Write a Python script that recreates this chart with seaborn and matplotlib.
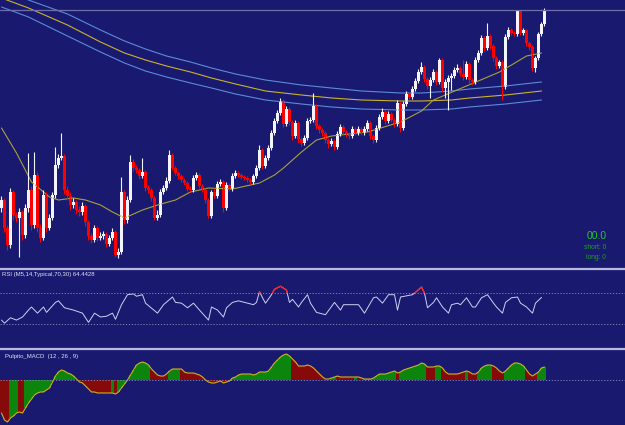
import numpy as np
import matplotlib.pyplot as plt
import seaborn as sns

# candle data (price units), open of each bar = previous close
first_open = 62
closes = [70, 42, 25, 78, 55, 52, 58, 35, 62, 80,
          45, 95, 42, 32, 75, 42, 52, 75, 105, 112,
          114, 80, 74, 65, 68, 60, 58, 64, 48, 34,
          30, 42, 32, 34, 36, 26, 32, 38, 15, 18,
          78, 50, 70, 108, 102, 100, 94, 98, 82, 80,
          72, 52, 55, 78, 82, 89, 115, 102, 97, 94,
          90, 87, 81, 80, 92, 95, 84, 80, 70, 54,
          78, 74, 86, 88, 62, 85, 81, 94, 97, 95,
          93, 92, 90, 88, 94, 102, 120, 104, 112, 122,
          137, 149, 157, 169, 146, 161, 148, 134, 147, 131,
          127, 132, 149, 150, 164, 144, 140, 137, 130, 126,
          129, 123, 136, 143, 138, 135, 134, 141, 137, 141,
          137, 141, 147, 134, 130, 142, 153, 158, 149, 156,
          150, 146, 167, 142, 166, 176, 173, 181, 189, 198,
          203, 191, 184, 190, 198, 188, 210, 182, 188, 192,
          194, 200, 202, 196, 193, 206, 190, 188, 210, 217,
          232, 222, 234, 224, 212, 204, 208, 183, 233, 240,
          237, 236, 259, 237, 240, 227, 223, 202, 212, 236,
          246, 260]
highs = [74, 72, 45, 82, 80, 58, 62, 60, 66, 117,
         84, 118, 98, 46, 80, 78, 56, 78, 123, 116,
         137, 116, 84, 78, 72, 70, 64, 68, 66, 50,
         37, 45, 44, 38, 39, 38, 35, 42, 40, 22,
         93, 80, 74, 115, 111, 105, 102, 112, 100, 85,
         82, 74, 60, 81, 85, 93, 120, 117, 104, 99,
         96, 92, 89, 84, 95, 98, 97, 86, 82, 72,
         80, 82, 89, 91, 90, 88, 87, 97, 100, 99,
         97, 95, 94, 92, 96, 105, 125, 122, 115, 125,
         140, 152, 160, 172, 171, 164, 163, 150, 150, 149,
         133, 135, 152, 153, 177, 166, 146, 142, 139, 132,
         132, 131, 139, 146, 145, 140, 137, 144, 143, 144,
         143, 144, 150, 149, 136, 145, 156, 162, 160, 159,
         158, 152, 170, 169, 169, 179, 178, 184, 192, 201,
         208, 205, 193, 193, 201, 200, 212, 212, 191, 195,
         197, 203, 206, 204, 210, 209, 208, 192, 213, 220,
         235, 234, 247, 236, 226, 214, 210, 210, 236, 243,
         242, 239, 260, 260, 242, 241, 229, 225, 214, 238,
         248, 262]
lows = [58, 38, 20, 22, 50, 48, 13, 30, 32, 58,
        40, 42, 38, 28, 30, 38, 40, 50, 72, 102,
        110, 76, 70, 60, 62, 56, 54, 55, 44, 30,
        27, 28, 29, 30, 31, 23, 24, 30, 13, 12,
        16, 46, 47, 68, 99, 97, 91, 92, 79, 77,
        69, 50, 50, 53, 76, 80, 87, 100, 95, 91,
        88, 85, 79, 78, 78, 90, 82, 78, 67, 52,
        52, 72, 72, 84, 58, 60, 79, 79, 92, 93,
        91, 90, 88, 86, 86, 92, 100, 101, 102, 110,
        120, 135, 147, 155, 143, 144, 145, 130, 132, 127,
        124, 125, 130, 147, 148, 141, 137, 134, 127, 122,
        124, 120, 121, 134, 136, 133, 131, 132, 135, 135,
        135, 135, 139, 131, 127, 128, 140, 151, 146, 147,
        148, 143, 144, 138, 140, 164, 171, 171, 179, 187,
        196, 188, 181, 172, 188, 185, 186, 178, 172, 160,
        180, 192, 198, 194, 190, 191, 186, 185, 186, 208,
        215, 219, 220, 221, 209, 201, 202, 170, 181, 231,
        235, 234, 234, 235, 235, 224, 220, 199, 198, 210,
        234, 244]

# moving average and envelope (bar index, price)
ma_idx = [0, 5, 10, 16, 19, 24, 28, 33, 37, 41, 47, 52, 58, 63, 69, 77,
          86, 91, 94, 100, 105, 110, 122, 133, 140, 144, 155, 166, 170, 175, 180]
ma_val = [142, 117, 88, 73, 70, 72, 70, 65, 58, 52, 60, 65, 70, 78, 82, 81,
          87, 95, 102, 118, 130, 134, 138, 148, 159, 170, 184, 198, 205, 214, 217]
env_idx = [0, 9, 22, 33, 41, 48, 55, 63, 70, 78, 88, 100, 110, 120, 133, 140, 150, 156, 168, 180]
env_up = [282, 270, 256, 240, 229, 221, 214, 208, 202, 196, 190, 185, 182, 179, 177, 177, 179, 181, 184, 188]
env_mid = [272, 262, 245, 228, 217, 210, 204, 198, 192, 186, 179, 175, 172, 170, 169, 169, 170, 172, 175, 179]
env_dn = [263, 253, 234, 218, 207, 199, 193, 187, 182, 176, 170, 166, 163, 161, 160, 160, 161, 163, 166, 170]

# RSI(14)
rsi_idx = [0, 1, 3, 5, 7, 9, 10, 12, 14, 15, 18, 19, 21, 24, 27, 29, 31, 33, 35, 37,
           38, 40, 42, 44, 45, 47, 48, 52, 54, 57, 58, 60, 62, 64, 66, 69, 70, 72, 74, 75,
           77, 79, 82, 84, 85, 86, 87, 88, 90, 91, 93, 95, 96, 97, 99, 100, 102, 103, 105, 108,
           111, 113, 114, 117, 119, 121, 124, 125, 127, 129, 131, 132, 133, 137, 138, 140, 141, 142, 144, 145,
           147, 149, 150, 152, 153, 155, 157, 158, 160, 162, 164, 165, 167, 168, 170, 172, 173, 175, 177, 178,
           180]
rsi_val = [35, 31, 38, 35, 39, 48, 52, 44, 52, 45, 58, 60, 51, 48, 44, 32, 44, 39, 40, 44,
           36, 55, 68, 69, 66, 68, 57, 44, 55, 65, 58, 57, 51, 57, 48, 35, 52, 48, 39, 51,
           58, 60, 57, 55, 58, 72, 64, 57, 68, 75, 79, 74, 58, 62, 52, 58, 68, 57, 45, 42,
           58, 48, 55, 55, 55, 44, 64, 65, 57, 68, 68, 48, 65, 68, 71, 78, 70, 51, 58, 64,
           52, 44, 55, 57, 55, 64, 52, 52, 64, 68, 57, 52, 44, 58, 64, 65, 57, 52, 44, 57,
           64.4428]

# MACD histogram, one value per bar
macd_val = [-33, -40, -42, -38, -36, -33, -32, -33, -28, -23,
            -19, -15, -13, -12, -12, -10, -8, -2, 4, 8,
            10, 9, 7, 6, 4, 1, -2, -3, -6, -9,
            -12, -12, -13, -13, -13, -13, -13, -13, -14, -12,
            -8, -4, 0, 5, 10, 15, 17, 18, 17, 15,
            11, 8, 5, 4, 4, 6, 9, 11, 11, 11,
            11, 8, 7, 7, 7, 6, 5, 3, 0, -2,
            -3, -3, -2, -1, -3, -2, -1, 2, 3, 5,
            6, 6, 6, 6, 5, 6, 8, 8, 8, 9,
            13, 17, 20, 23, 25, 26, 24, 21, 18, 14,
            14, 14, 15, 14, 12, 9, 6, 3, 1, 1,
            2, 3, 4, 3, 3, 3, 3, 3, 3, 3,
            2, 1, 1, 1, 2, 4, 6, 6, 6, 7,
            8, 9, 7, 8, 10, 11, 12, 13, 14, 15,
            17, 16, 13, 13, 13, 14, 14, 12, 8, 6,
            6, 6, 6, 7, 8, 9, 8, 6, 6, 8,
            12, 14, 15, 15, 14, 12, 9, 7, 9, 12,
            15, 17, 17, 16, 14, 10, 6, 4, 6, 8,
            12, 13]
# bar index where the histogram colour changes (down / up alternating)
macd_breaks = [0, 3, 6, 8, 25, 37, 38, 39, 50, 56, 60, 76, 97, 110, 112,
               118, 119, 121, 132, 133, 142, 145, 147, 155, 156, 159, 164, 168, 175, 179]
macd_dirs = ['dn', 'up'] * 15

bg = '#191970'
sns.set_style('dark', rc={'axes.facecolor': bg, 'figure.facecolor': bg})
plt.rcParams['font.family'] = ['Liberation Sans', 'DejaVu Sans']

n = len(closes)
idx = np.arange(n)
c = np.array(closes, dtype=float)
o = np.array([first_open] + closes[:-1], dtype=float)
bull = c >= o
ccol = np.where(bull, '#f4f4ff', '#ff0000')

fig = plt.figure(figsize=(6.25, 4.25), dpi=100)
H = 425
ax = fig.add_axes([0, (H - 268) / H, 1, 268 / H])
ax_rsi = fig.add_axes([0, (H - 348) / H, 1, 79 / H])
ax_macd = fig.add_axes([0, 0, 1, 76 / H])
xlim = (-0.5, (625 - 1.5) / 3)

# main chart
sns.lineplot(x=env_idx, y=env_up, ax=ax, color='#5b8bd6', lw=0.8)
sns.lineplot(x=env_idx, y=env_dn, ax=ax, color='#5b8bd6', lw=0.8)
sns.lineplot(x=env_idx, y=env_mid, ax=ax, color='#c8b428', lw=0.8)
sns.lineplot(x=ma_idx, y=ma_val, ax=ax, color='#a8a038', lw=0.8)
ax.vlines(idx, lows, highs, colors=ccol, lw=0.8)
ax.bar(idx, np.maximum(np.abs(c - o), 0.8), bottom=np.minimum(o, c), width=0.72, color=ccol, linewidth=0)
ax.axhline(closes[-1], color='#6e6ea8', lw=0.9)
ax.set_xlim(*xlim)
ax.set_ylim(2, 270)
ax.text(0.971, 0.119, '00.0', transform=ax.transAxes, ha='right', va='center', fontsize=7.5, color='#22c822')
ax.text(0.970, 0.078, 'short: 0', transform=ax.transAxes, ha='right', va='center', fontsize=4.8, color='#1fa01f')
ax.text(0.970, 0.041, 'long: 0', transform=ax.transAxes, ha='right', va='center', fontsize=4.8, color='#1fa01f')

# RSI
sns.lineplot(x=rsi_idx, y=rsi_val, ax=ax_rsi, color='#d0d0f0', lw=0.7)
red = ax_rsi.plot(rsi_idx, rsi_val, color='#ff1a1a', lw=0.9)[0]
clip = plt.Rectangle((-5, 70), 300, 60, transform=ax_rsi.transData)
red.set_clip_path(clip)
for lev in (70, 30):
    ax_rsi.axhline(lev, color='#8a8ac0', lw=0.6, ls=(0, (1.5, 2)))
ax_rsi.set_xlim(*xlim)
ax_rsi.set_ylim(-1.3, 101.4)
ax_rsi.text(0.003, 0.965, f'RSI (M5,14,Typical,70,30) {rsi_val[-1]:.4f}', transform=ax_rsi.transAxes,
            ha='left', va='top', fontsize=4.3, color='#e0e0f4')

# MACD
mcol = []
for i in range(n):
    k = np.searchsorted(macd_breaks, i, side='right') - 1
    mcol.append('#0b850b' if macd_dirs[k] == 'up' else '#860a0a')
ax_macd.bar(idx, macd_val, width=0.78, color=mcol, linewidth=0)
sns.lineplot(x=idx, y=macd_val, ax=ax_macd, color='#d2b020', lw=0.8)
ax_macd.axhline(0, color='#8a8ac0', lw=0.6, ls=(0, (1.5, 2)))
ax_macd.set_xlim(*xlim)
ax_macd.set_ylim(-45, 31)
ax_macd.text(0.008, 0.93, 'Pulpito_MACD  (12 , 26 , 9)', transform=ax_macd.transAxes,
             ha='left', va='top', fontsize=4.3, color='#e0e0f4')

for a in (ax, ax_rsi, ax_macd):
    a.set_xticks([])
    a.set_yticks([])
    a.grid(False)
    a.set_xlabel('')
    a.set_ylabel('')
    for s in a.spines.values():
        s.set_visible(False)
for a in (ax_rsi, ax_macd):
    a.spines['top'].set_visible(True)
    a.spines['top'].set_color('#b8b8e0')
    a.spines['top'].set_linewidth(1.6)

fig.savefig('out.png', dpi=100, facecolor=bg)
